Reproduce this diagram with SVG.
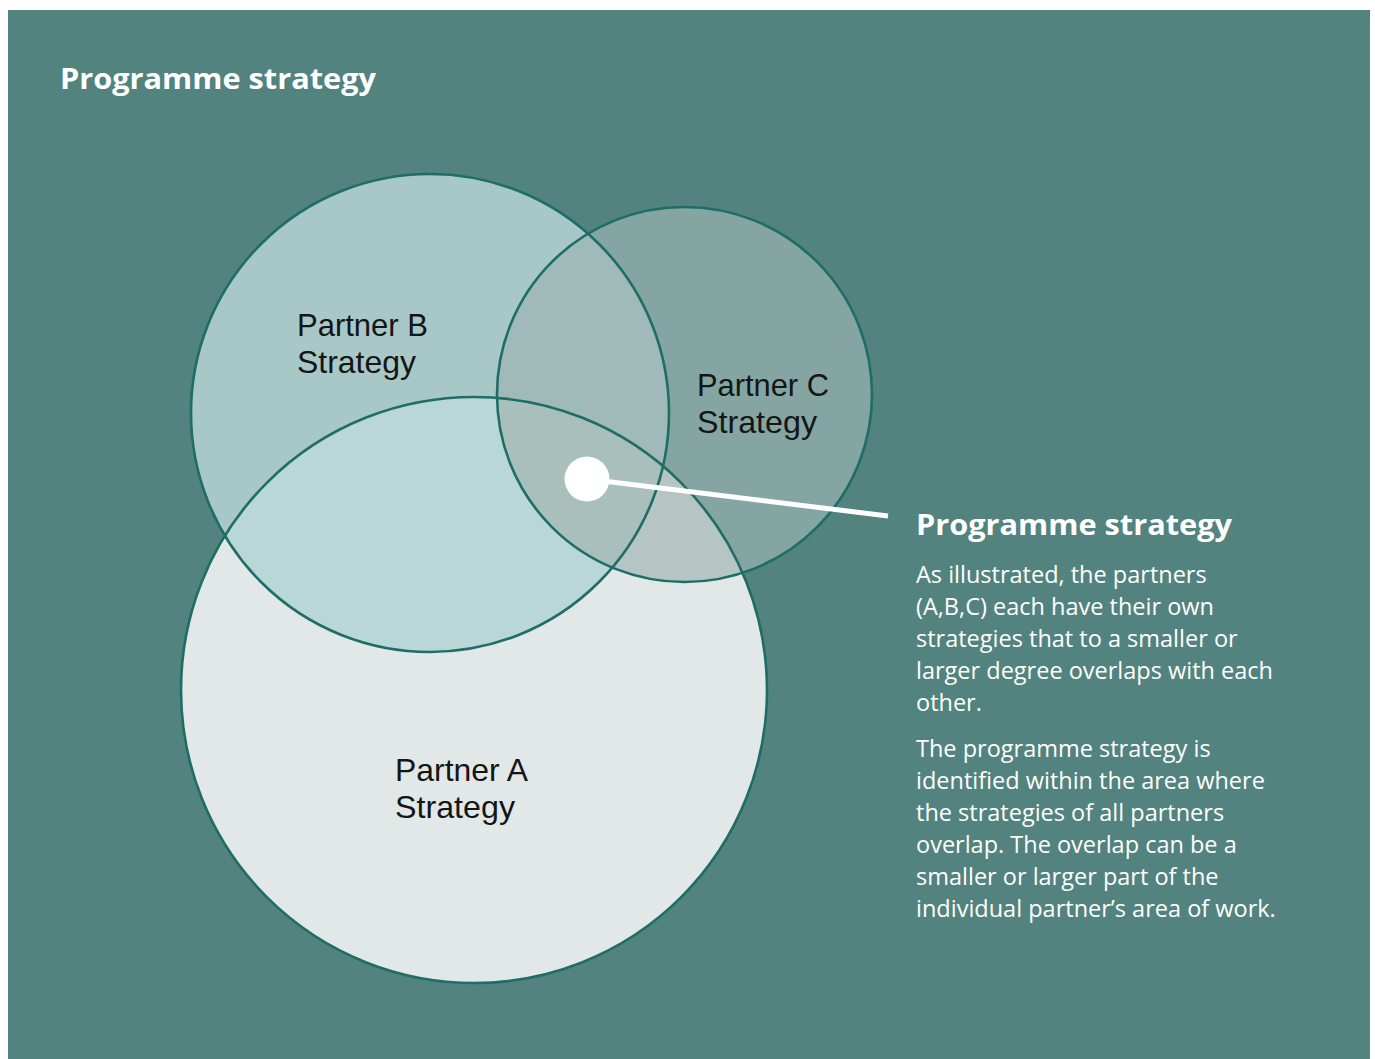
<svg xmlns="http://www.w3.org/2000/svg" width="1375" height="1059" viewBox="0 0 1375 1059">
<style>
.ring{fill:none;stroke:#1f6d67;stroke-width:2.6}
.lbl{font-family:"Liberation Sans",Arial,sans-serif;font-size:30.5px;fill:#151515}
.ttl{font-family:"Open Sans","Liberation Sans",sans-serif;font-size:29px;font-weight:bold;fill:#ffffff}
.body{font-family:"Open Sans","Liberation Sans",sans-serif;font-size:23.5px;fill:#ffffff}
</style>
<defs>
<clipPath id="clipA"><circle cx="474" cy="690" r="293"/></clipPath>
<clipPath id="clipB"><circle cx="430" cy="413" r="239"/></clipPath>
<clipPath id="clipC"><circle cx="684.5" cy="394.5" r="187.5"/></clipPath>
</defs>
<rect x="8" y="10" width="1362" height="1049" fill="#52837e"/>
<text class="ttl" x="60" y="89" textLength="316" lengthAdjust="spacingAndGlyphs">Programme strategy</text>

<g id="fills">
<circle cx="474" cy="690" r="293" fill="#e1e8e7"/>
<circle cx="430" cy="413" r="239" fill="#a7c8c7"/>
<circle cx="684.5" cy="394.5" r="187.5" fill="#84a5a1"/>
<circle cx="474" cy="690" r="293" fill="#bad7d7" clip-path="url(#clipB)"/>
<circle cx="474" cy="690" r="293" fill="#b4c5c4" clip-path="url(#clipC)"/>
<circle cx="430" cy="413" r="239" fill="#9fbab9" clip-path="url(#clipC)"/>
<g clip-path="url(#clipC)"><circle cx="474" cy="690" r="293" fill="#a8bfbc" clip-path="url(#clipB)"/></g>
</g>

<g id="partnerB">
<circle class="ring" cx="430" cy="413" r="239"/>
<text class="lbl" x="297" y="336" textLength="131" lengthAdjust="spacingAndGlyphs">Partner B</text>
<text class="lbl" x="297" y="373" textLength="119" lengthAdjust="spacingAndGlyphs">Strategy</text>
</g>
<g id="partnerC">
<circle class="ring" cx="684.5" cy="394.5" r="187.5"/>
<text class="lbl" x="697" y="396" textLength="132" lengthAdjust="spacingAndGlyphs">Partner C</text>
<text class="lbl" x="697" y="433" textLength="120" lengthAdjust="spacingAndGlyphs">Strategy</text>
</g>
<g id="partnerA">
<circle class="ring" cx="474" cy="690" r="293"/>
<text class="lbl" x="395" y="781" textLength="133" lengthAdjust="spacingAndGlyphs">Partner A</text>
<text class="lbl" x="395" y="818" textLength="120" lengthAdjust="spacingAndGlyphs">Strategy</text>
</g>

<g id="connectors">
<line x1="587" y1="479" x2="888" y2="516" stroke="#ffffff" stroke-width="5"/>
</g>
<g id="programme">
<circle cx="587" cy="479" r="22.5" fill="#ffffff"/>
</g>

<g id="description">
<text class="ttl" x="916" y="535" textLength="316" lengthAdjust="spacingAndGlyphs">Programme strategy</text>
<text class="body" x="916" y="583">As illustrated, the partners</text>
<text class="body" x="916" y="615">(A,B,C) each have their own</text>
<text class="body" x="916" y="647">strategies that to a smaller or</text>
<text class="body" x="916" y="679">larger degree overlaps with each</text>
<text class="body" x="916" y="711">other.</text>
<text class="body" x="916" y="757">The programme strategy is</text>
<text class="body" x="916" y="789">identified within the area where</text>
<text class="body" x="916" y="821">the strategies of all partners</text>
<text class="body" x="916" y="853">overlap. The overlap can be a</text>
<text class="body" x="916" y="885">smaller or larger part of the</text>
<text class="body" x="916" y="917">individual partner’s area of work.</text>
</g>
</svg>
